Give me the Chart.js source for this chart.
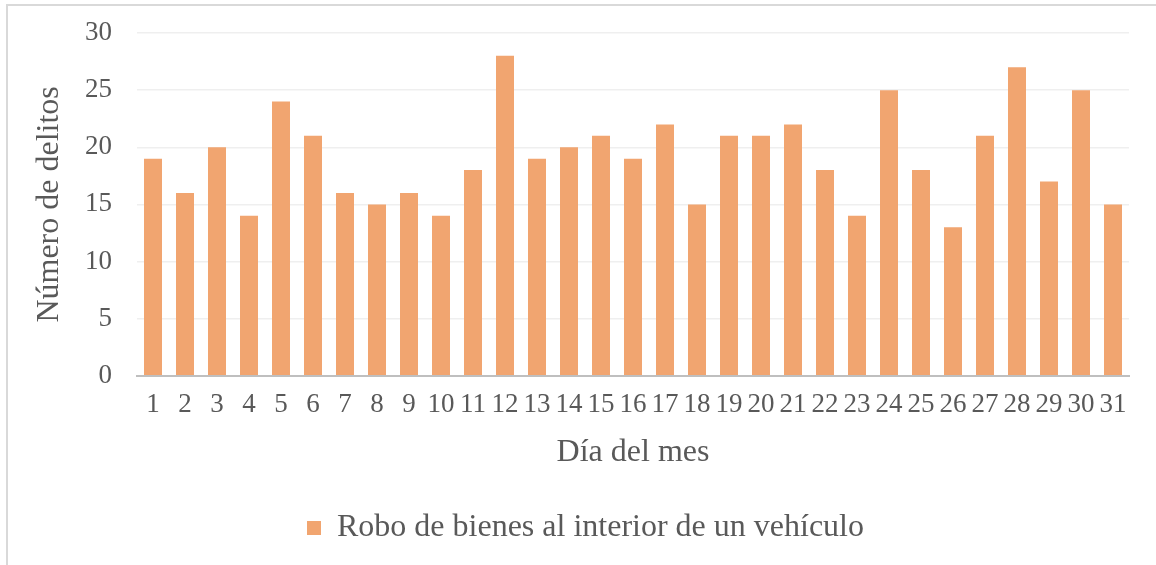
<!DOCTYPE html>
<html><head><meta charset="utf-8">
<script src="https://cdn.jsdelivr.net/npm/chart.js@4/dist/chart.umd.min.js"></script>
<style>
html,body{margin:0;padding:0;background:#fff;overflow:hidden;}
#wrap{position:relative;width:1156px;height:565px;}
#frame{position:absolute;left:6px;top:4px;width:1200px;height:600px;border:2px solid #d9d9d9;box-sizing:border-box;pointer-events:none;}
canvas{position:absolute;left:0;top:0;}
</style></head>
<body><div id="wrap"><canvas id="c" width="1156" height="565"></canvas><div id="frame"></div></div>
<script>
const days = ["1","2","3","4","5","6","7","8","9","10","11","12","13","14","15","16","17","18","19","20","21","22","23","24","25","26","27","28","29","30","31"];
const robos = [19,16,20,14,24,21,16,15,16,14,18,28,19,20,21,19,22,15,21,21,22,18,14,25,18,13,21,27,17,25,15];
const seriesName = "Robo de bienes al interior de un vehículo";
const xTitle = "Día del mes";
const yTitle = "Número de delitos";

const font = "'Liberation Serif','Times New Roman',serif";
const grey = "#595959";
const plotTop = 33, plotBottom = 376;
const shiftLegend = {
  id: 'shiftLegend',
  afterLayout(chart) { const l = chart.legend; if (l) { l.left += 21; l.right += 21; } }
};
const chart = new Chart(document.getElementById('c'), {
  type: 'bar',
  data: { labels: days, datasets: [{ label: seriesName, data: robos, backgroundColor: 'rgb(241,165,112)', borderWidth: 0, barPercentage: 0.5625, categoryPercentage: 1 }] },
  options: {
    responsive: false, animation: false,
    layout: { padding: { left: 0, right: 27, top: 33, bottom: 11 } },
    plugins: {
      legend: { position: 'bottom', labels: { color: grey, font: { family: font, size: 32 }, boxWidth: 14, boxHeight: 14, padding: 10 } },
      tooltip: { enabled: false }
    },
    scales: {
      x: {
        grid: { display: false, drawTicks: false },
        border: { color: '#bfbfbf', width: 2 },
        ticks: { color: grey, font: { family: font, size: 27 }, padding: 13, maxRotation: 0, autoSkip: false },
        title: { display: true, text: xTitle, color: grey, font: { family: font, size: 32, lineHeight: 1.15 }, padding: { top: 0, bottom: 29 } }
      },
      y: {
        min: 0, max: 30,
        ticks: { stepSize: 5, color: grey, font: { family: font, size: 27 }, padding: 0 },
        grid: { color: '#efefef', lineWidth: 1.5, drawTicks: true, tickLength: 25, tickColor: 'rgba(0,0,0,0)' },
        border: { display: false },
        title: { display: true, text: yTitle, color: grey, font: { family: font, size: 32 }, padding: { top: 30, bottom: 0 } },
        afterFit: s => { s.width = 137; }
      }
    }
  },
  plugins: [shiftLegend]
});
for (let i = 0; i < 4; i++) {
  const ca = chart.chartArea;
  const dT = Math.round(plotTop - ca.top);
  const dB = Math.round(ca.bottom - plotBottom);
  if (!dT && !dB) break;
  chart.options.layout.padding.top = Math.max(0, chart.options.layout.padding.top + dT);
  chart.options.scales.x.title.padding.bottom = Math.max(0, chart.options.scales.x.title.padding.bottom + dB);
  chart.update();
}
</script></body></html>
